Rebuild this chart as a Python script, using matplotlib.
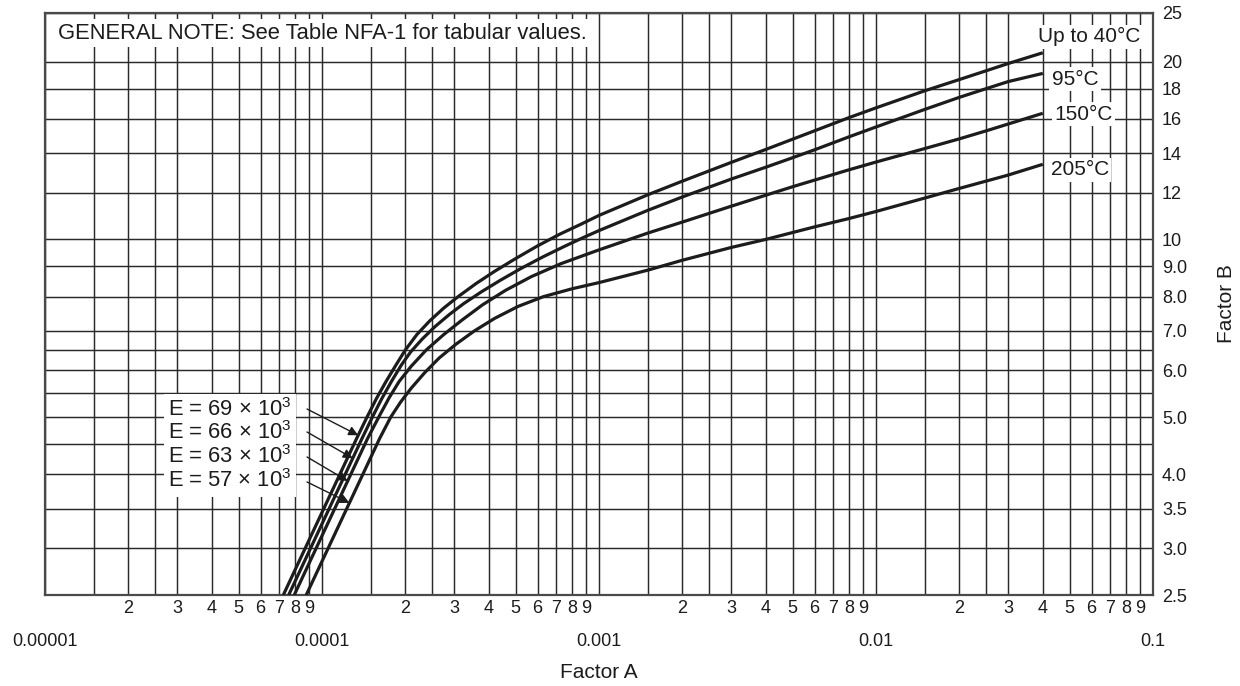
import numpy as np
import matplotlib
matplotlib.use('Agg')
import matplotlib.pyplot as plt
from matplotlib.ticker import FixedLocator, FixedFormatter

plt.rcParams['font.family'] = ['Liberation Sans', 'DejaVu Sans']
plt.rcParams['mathtext.fontset'] = 'custom'
plt.rcParams['mathtext.rm'] = 'Liberation Sans'

# ---- data (Factor A, Factor B) ----
temps = ['Up to 40\u00b0C', '95\u00b0C', '150\u00b0C', '205\u00b0C']
E_vals = [69, 66, 63, 57]   # x 10^3

A1 = [7.25e-5, 1.333e-4, 1.45e-4, 1.57e-4, 1.7e-4, 1.85e-4, 2e-4, 2.2e-4, 2.45e-4, 2.75e-4,
      3.1e-4, 3.6e-4, 4.2e-4, 5e-4, 6e-4, 7.2e-4, 8.5e-4, 1e-3, 1.5e-3, 2e-3, 3e-3, 4e-3,
      5e-3, 6e-3, 7e-3, 8e-3, 1e-2, 1.5e-2, 2e-2, 2.5e-2, 3e-2, 4e-2]
B1 = [2.5, 4.6, 4.99, 5.37, 5.74, 6.13, 6.5, 6.9, 7.28, 7.65,
      8.0, 8.42, 8.83, 9.28, 9.75, 10.2, 10.58, 10.98, 11.9, 12.55, 13.5, 14.2,
      14.78, 15.27, 15.7, 16.08, 16.7, 17.85, 18.65, 19.3, 19.85, 20.7]

A2 = [7.58e-5, 1.394e-4, 1.516e-4, 1.642e-4, 1.778e-4, 1.935e-4, 2.09e-4, 2.3e-4, 2.56e-4,
      2.88e-4, 3.24e-4, 3.76e-4, 4.39e-4, 5.23e-4, 6.27e-4, 7.53e-4, 8.89e-4, 1e-3, 1.5e-3,
      2e-3, 3e-3, 4e-3, 5e-3, 6e-3, 8e-3, 1e-2, 1.5e-2, 2e-2, 2.5e-2, 3e-2, 4e-2]
B2 = [2.5, 4.6, 4.99, 5.37, 5.74, 6.13, 6.45, 6.78, 7.12,
      7.46, 7.78, 8.15, 8.52, 8.93, 9.34, 9.74, 10.1, 10.35, 11.2,
      11.8, 12.65, 13.25, 13.75, 14.18, 14.92, 15.5, 16.6, 17.4, 18.0, 18.5, 19.1]

A3 = [7.94e-5, 1.46e-4, 1.62e-4, 1.75e-4, 1.9e-4, 2.1e-4, 2.38e-4, 2.75e-4, 3.2e-4, 3.8e-4,
      4.6e-4, 5.7e-4, 7.3e-4, 1e-3, 1.5e-3, 2e-3, 3e-3, 4e-3, 5e-3, 6e-3, 8e-3, 1e-2,
      1.5e-2, 2e-2, 2.5e-2, 3e-2, 4e-2]
B3 = [2.5, 4.6, 5.05, 5.4, 5.75, 6.1, 6.5, 6.9, 7.3, 7.75,
      8.2, 8.65, 9.1, 9.6, 10.25, 10.7, 11.38, 11.88, 12.28, 12.6, 13.12, 13.52,
      14.25, 14.8, 15.27, 15.68, 16.35]

A4 = [8.77e-5, 1.614e-4, 1.77e-4, 1.92e-4, 2.1e-4, 2.35e-4, 2.65e-4, 3.05e-4, 3.55e-4, 4.2e-4,
      5.1e-4, 6.3e-4, 8e-4, 1e-3, 1.5e-3, 2e-3, 3e-3, 4e-3, 6e-3, 8e-3, 1e-2, 1.5e-2,
      2e-2, 3e-2, 4e-2]
B4 = [2.5, 4.6, 5.0, 5.3, 5.6, 5.95, 6.3, 6.65, 7.0, 7.35,
      7.7, 8.0, 8.25, 8.45, 8.87, 9.22, 9.69, 10.0, 10.5, 10.85, 11.15, 11.75,
      12.2, 12.85, 13.4]

curves_A = [A1, A2, A3, A4]
curves_B = [B1, B2, B3, B4]
arrow_B = [4.66, 4.26, 3.9, 3.58]   # where each E arrow meets its line

# ---- axis ticks ----
decades = [1e-5, 1e-4, 1e-3, 1e-2, 1e-1]
decade_labels = ['0.00001', '0.0001', '0.001', '0.01', '0.1']
sub_steps = [1.5, 2, 2.5, 3, 4, 5, 6, 7, 8, 9]
sub_labels = ['', '2', '', '3', '4', '5', '6', '7', '8', '9']

b_grid = [2.5, 3.0, 3.5, 4.0, 4.5, 5.0, 5.5, 6.0, 6.5, 7.0, 8.0, 9.0, 10, 12, 14, 16, 18, 20, 24.2]
b_labels = ['2.5', '3.0', '3.5', '4.0', '', '5.0', '', '6.0', '', '7.0', '8.0', '9.0',
            '10', '12', '14', '16', '18', '20', '25']

ink = '#1c1c1c'
grid_c = '#2a2a2a'

fig = plt.figure(figsize=(12.4, 6.86), dpi=100)
ax = fig.add_axes([0.03629, 0.13265, 0.89355, 0.84883])
ax.set_xscale('log')
ax.set_yscale('log')
ax.set_xlim(decades[0], decades[-1])
ax.set_ylim(b_grid[0], b_grid[-1])

minor_pos = [d * s for d in decades[:-1] for s in sub_steps]
minor_lab = [l for d in decades[:-1] for l in sub_labels]
ax.xaxis.set_major_locator(FixedLocator(decades))
ax.xaxis.set_major_formatter(FixedFormatter(decade_labels))
ax.xaxis.set_minor_locator(FixedLocator(minor_pos))
ax.xaxis.set_minor_formatter(FixedFormatter(minor_lab))
ax.tick_params(axis='x', which='major', length=0, pad=27.5, labelsize=13, colors=ink)
ax.tick_params(axis='x', which='minor', length=0, pad=3.3, labelsize=13, colors=ink)

ax.yaxis.set_major_locator(FixedLocator(b_grid))
ax.yaxis.set_major_formatter(FixedFormatter(b_labels))
ax.yaxis.set_minor_locator(FixedLocator([]))
ax.yaxis.tick_right()
ax.tick_params(axis='y', which='major', length=0, pad=6.5, labelsize=13, colors=ink)

ax.grid(True, which='both', axis='x', color=grid_c, lw=1.05)
ax.grid(True, which='major', axis='y', color=grid_c, lw=1.05)
for sp in ax.spines.values():
    sp.set_color('#4a4a4a')
    sp.set_linewidth(1.6)

for A, B in zip(curves_A, curves_B):
    ax.plot(A, B, color=ink, lw=2.3, solid_capstyle='butt', solid_joinstyle='round', zorder=3)

# temperature labels at the right ends of the curves
temp_pos = [(0.896, 0.959), (0.9088, 0.886), (0.9107, 0.826), (0.9075, 0.730)]
for t, (fx, fy) in zip(temps, temp_pos):
    ax.text(fx, fy, t, transform=ax.transAxes, ha='left', va='center', fontsize=15,
            color=ink, zorder=4,
            bbox=dict(boxstyle='square,pad=0.12', fc='white', ec='none'))

# E labels with arrows
e_text_y = [0.3177, 0.2782, 0.2370, 0.1958]
e_arrow_y = [0.3194, 0.2799, 0.2370, 0.1941]
for e, A, B, bt, ty, ay in zip(E_vals, curves_A, curves_B, arrow_B, e_text_y, e_arrow_y):
    ax.text(0.111, ty, 'E = %d \u00d7 10$^{\\mathrm{3}}$' % e, transform=ax.transAxes,
            ha='left', va='center', fontsize=15.8, color=ink, zorder=4,
            bbox=dict(boxstyle='square,pad=0.2', fc='white', ec='none'))
    tip_a = 10 ** np.interp(np.log10(bt), np.log10(B), np.log10(A))
    ax.annotate('', xy=(tip_a, bt), xytext=(0.2365, ay), textcoords='axes fraction',
                arrowprops=dict(arrowstyle='-|>', color=ink, lw=1.0, shrinkA=0, shrinkB=0,
                                mutation_scale=14), zorder=5)

ax.text(0.0117, 0.965, 'GENERAL NOTE: See Table NFA-1 for tabular values.',
        transform=ax.transAxes, ha='left', va='center', fontsize=15.8, color=ink, zorder=4,
        bbox=dict(boxstyle='square,pad=0.15', fc='white', ec='none'))

fig.text(599 / 1240, 1 - 673 / 686, 'Factor A', ha='center', va='center', fontsize=15, color=ink)
fig.text(1226 / 1240, 1 - 304 / 686, 'Factor B', ha='center', va='center', fontsize=15,
         color=ink, rotation=90)

fig.savefig('out.png', dpi=100)
